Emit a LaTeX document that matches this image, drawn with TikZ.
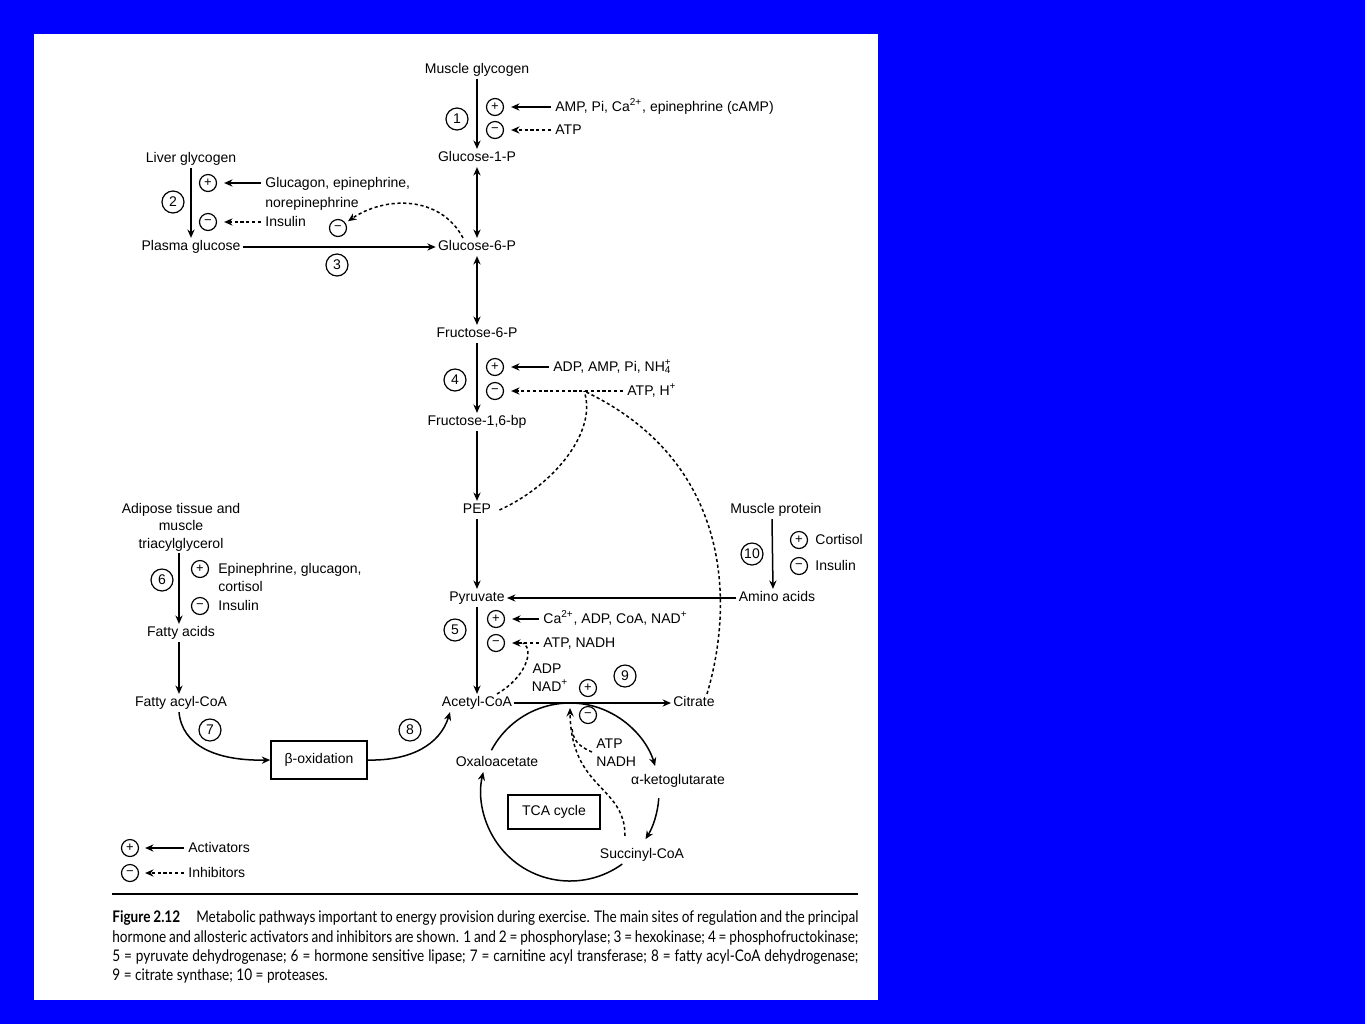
\documentclass[tikz,border=0pt]{standalone}
\usepackage{fontspec}
\setmainfont{Liberation Sans}
\newfontfamily\capfont{Lato}[FakeStretch=0.85]
\usetikzlibrary{arrows.meta}
\begin{document}
\begin{tikzpicture}[x=0.5pt,y=-0.5pt,
  lbl/.style={font=\fontsize{7}{8.75}\selectfont, inner sep=1pt},
  lb/.style={lbl, text height=5.2pt, text depth=1.5pt},
  numc/.style={circle, draw, line width=0.6pt, minimum size=11pt, inner sep=0pt, font=\fontsize{7}{8}\selectfont},
  pmc/.style={circle, draw, line width=0.6pt, minimum size=8.5pt, inner sep=0pt, font=\fontsize{6.5}{7}\selectfont},
  act/.style={-{Stealth[length=4.2pt,width=3.6pt]}, line width=0.75pt},
  both/.style={{Stealth[length=4.2pt,width=3.6pt]}-{Stealth[length=4.2pt,width=3.6pt]}, line width=0.75pt},
  inh/.style={act, dash pattern=on 1.6pt off 1.3pt},
  dsh/.style={line width=0.75pt, dash pattern=on 1.6pt off 1.3pt},
  boxed/.style={draw, line width=0.75pt, inner sep=0pt, font=\fontsize{7}{8}\selectfont},
  capline/.style={anchor=west, inner sep=0pt, font=\capfont\fontsize{8}{9}\selectfont},
]
\useasboundingbox (0,0) rectangle (1365,1024);
\fill[blue] (0,0) rectangle (1365,1024);
\fill[white] (34,34) rectangle (878,1000);

% main column
\node[lb] (mg) at (477,70) {Muscle glycogen};
\node[lb] (g1p) at (477,158) {Glucose-1-P};
\node[lb] (g6p) at (477,247) {Glucose-6-P};
\node[lb] (f6p) at (477,334) {Fructose-6-P};
\node[lb] (f16) at (477,422) {Fructose-1,6-bp};
\node[lb] (pep) at (477,510) {PEP};
\node[lb] (pyr) at (477,598) {Pyruvate};
\node[lb] (acoa) at (477,703) {Acetyl-CoA};
\node[lb] (cit) at (694,703) {Citrate};

\draw[act] (mg) -- (g1p);
\draw[both] (g1p) -- (g6p);
\draw[both] (g6p) -- (f6p);
\draw[act] (f6p) -- (f16);
\draw[act] (f16) -- (pep);
\draw[act] (pep) -- (pyr);
\draw[act] (pyr) -- (acoa);
\draw[act] (acoa) -- (cit);

% step 1
\node[numc] (n1) at (457,119) {1};
\node[pmc] (p1) at (495,107) {+};
\node[pmc] (m1) at (495,130) {−};
\node[lb, anchor=west] (t1a) at (553,108) {AMP, Pi, Ca\textsuperscript{2+}, epinephrine (cAMP)};
\node[lb, anchor=west] (t1b) at (553,131) {ATP};
\draw[act, shorten >=3.5pt, shorten <=1pt] (t1a.west |- p1) -- (p1);
\draw[inh, shorten >=3.5pt, shorten <=1pt] (t1b.west |- m1) -- (m1);

% liver / step 2, 3
\node[lb] (lg) at (191,159) {Liver glycogen};
\node[lb] (pg) at (191,247) {Plasma glucose};
\draw[act] (lg) -- (pg);
\draw[act] (pg) -- (g6p);
\node[numc] (n2) at (173,202) {2};
\node[pmc] (p2) at (208,183) {+};
\node[pmc] (m2) at (208,222) {−};
\node[lb, anchor=west] (t2a) at (263,184) {Glucagon, epinephrine,};
\node[lb, anchor=west] (t2b) at (263,204) {norepinephrine};
\node[lb, anchor=west] (t2c) at (263,223) {Insulin};
\draw[act, shorten >=3.5pt, shorten <=1pt] (t2a.west |- p2) -- (p2);
\draw[inh, shorten >=3.5pt, shorten <=1pt] (t2c.west |- m2) -- (m2);
\node[numc] (n3) at (337,265) {3};
\node[pmc] (m3) at (338,228) {−};
\draw[inh, shorten >=1.5pt] ([xshift=-7pt]g6p.north) .. controls (440,195) and (385,196) .. (m3);

% step 4
\node[numc] (n4) at (455,380) {4};
\node[pmc] (p4) at (495,367) {+};
\node[pmc] (m4) at (495,391) {−};
\node[lb, anchor=west] (t4a) at (551,368) {ADP, AMP, Pi, NH\rlap{\textsuperscript{+}}\textsubscript{4}};
\node[lb, anchor=west] (t4b) at (625,392) {ATP, H\textsuperscript{+}};
\draw[act, shorten >=3.5pt, shorten <=1pt] (t4a.west |- p4) -- (p4);
\draw[inh, shorten >=3.5pt, shorten <=1pt] (t4b.west |- m4) -- (m4);
\coordinate (j4) at (584,391);
\draw[dsh] ([xshift=3pt]pep.east) .. controls (555,485) and (598,430) .. (j4);
\draw[dsh] ([xshift=6.5pt]cit.north) .. controls (735,600) and (730,460) .. (j4);

% step 5
\node[numc] (n5) at (455,630) {5};
\node[pmc] (p5) at (496,619) {+};
\node[pmc] (m5) at (496,643) {−};
\node[lb, anchor=west] (t5a) at (541,620) {Ca\textsuperscript{2+}, ADP, CoA, NAD\textsuperscript{+}};
\node[lb, anchor=west] (t5b) at (541,644) {ATP, NADH};
\draw[act, shorten >=3.5pt, shorten <=1pt] (t5a.west |- p5) -- (p5);
\draw[inh, shorten >=3.5pt, shorten <=1pt] (t5b.west |- m5) -- (m5);
\coordinate (j5) at (523,643);
\draw[dsh] ([xshift=10pt]acoa.north) .. controls (525,678) and (535,650) .. (j5);

% step 9
\node[lb] (t9a) at (547,670) {ADP};
\node[lb] (t9b) at (550,688) {NAD\textsuperscript{+}};
\node[pmc] (p9) at (588,688) {+};
\node[numc] (n9) at (625,676) {9};
\node[pmc] (m9) at (588,715) {−};

% muscle protein / step 10
\node[lb] (mp) at (776,510) {Muscle protein};
\node[lb] (aa) at (777,598) {Amino acids};
\draw[act] ([xshift=-2pt]mp.south) -- ([xshift=-2pt]aa.north);
\draw[act] (aa) -- (pyr);
\node[numc] (n10) at (752,554) {10};
\node[pmc] (p10) at (799,540) {+};
\node[pmc] (m10) at (799,566) {−};
\node[lb, anchor=west] (t10a) at (813,541) {Cortisol};
\node[lb, anchor=west] (t10b) at (813,567) {Insulin};

% fatty acids / step 6,7,8
\node[lbl, align=center] (adip) at (181,527) {Adipose tissue and\\muscle\\triacylglycerol};
\node[lb] (fa) at (181,633) {Fatty acids};
\node[lb] (faco) at (181,703) {Fatty acyl-CoA};
\draw[act] ([xshift=-1pt]adip.south) -- ([xshift=-1pt]fa.north);
\draw[act] ([xshift=-1pt]fa.south) -- ([xshift=-1pt]faco.north);
\node[numc] (n6) at (162,580) {6};
\node[pmc] (p6) at (200,569) {+};
\node[pmc] (m6) at (200,606) {−};
\node[lb, anchor=west] (t6a) at (216,570) {Epinephrine, glucagon,};
\node[lb, anchor=west] (t6b) at (216,588) {cortisol};
\node[lb, anchor=west] (t6c) at (216,607) {Insulin};
\node[boxed, minimum width=48pt, minimum height=19pt] (box) at (319,760) {β-oxidation};
\draw[act] ([xshift=-1pt]faco.south) .. controls (182,745) and (215,761) .. (box.west);
\node[numc] (n7) at (210,730) {7};
\draw[act] (box.east) .. controls (410,761) and (440,745) .. ([xshift=-13.5pt]acoa.south);
\node[numc] (n8) at (410,730) {8};

% TCA cycle
\node[lb] (oaa) at (497,763) {Oxaloacetate};
\node[lb] (akg) at (678,781) {α-ketoglutarate};
\node[lb] (scoa) at (642,855) {Succinyl-CoA};
\node[boxed, minimum width=46pt, minimum height=17pt] (tca) at (554,812) {TCA cycle};
\coordinate (tc) at (570,792);
\path (tc) ++(-152:89) coordinate (a1s);
\path (tc) ++(4:89) coordinate (a2s);
\path (tc) ++(54:89) coordinate (a3s);
\draw[act] (a1s) arc[start angle=-152, end angle=-17, radius=89];
\draw[act] (a2s) arc[start angle=4, end angle=32, radius=89];
\draw[act] (a3s) arc[start angle=54, end angle=193, radius=89];
\node[lb, anchor=west] (atp9) at (594,745) {ATP};
\node[lb, anchor=west] (nadh9) at (594,763) {NADH};
\coordinate (cs) at (570,708);
\coordinate (jatp) at (592,752);
\draw[inh] ([xshift=-8.5pt,yshift=5pt]scoa.north) .. controls (625,785) and (571,790) .. (cs);
\draw[dsh] (jatp) .. controls (578,746) and (573,740) .. (572,728);

% legend
\node[pmc] (pl) at (130,848) {+};
\node[pmc] (ml) at (130,873) {−};
\node[lb, anchor=west] (ta) at (186,849) {Activators};
\node[lb, anchor=west] (ti) at (186,874) {Inhibitors};
\draw[act, shorten >=3pt, shorten <=1pt] (ta.west |- pl) -- (pl);
\draw[inh, shorten >=3pt, shorten <=1pt] (ti.west |- ml) -- (ml);

% caption
\draw[line width=0.9pt] (112,894) -- (858,894);
\node[capline] (c1) at (112,918) {\makebox[373pt][s]{\textbf{Figure 2.12}\quad Metabolic pathways important to energy provision during exercise. The main sites of regulation and the principal}};
\node[capline] (c2) at (112,937.5) {\makebox[373pt][s]{hormone and allosteric activators and inhibitors are shown. 1 and 2 = phosphorylase; 3 = hexokinase; 4 = phosphofructokinase;}};
\node[capline] (c3) at (112,957) {\makebox[373pt][s]{5 = pyruvate dehydrogenase; 6 = hormone sensitive lipase; 7 = carnitine acyl transferase; 8 = fatty acyl-CoA dehydrogenase;}};
\node[capline] (c4) at (112,976) {9 = citrate synthase; 10 = proteases.};
\end{tikzpicture}
\end{document}
